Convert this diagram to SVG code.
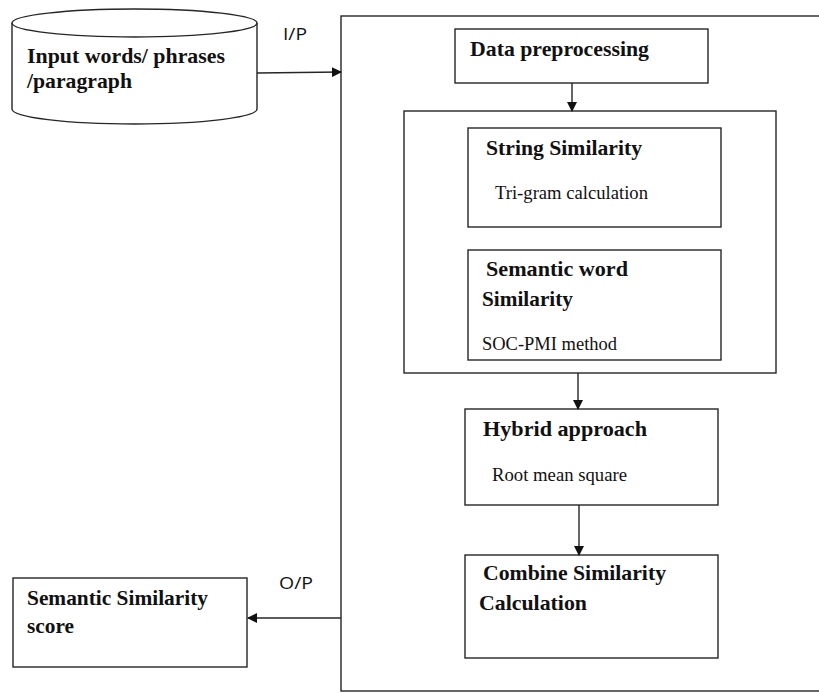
<svg xmlns="http://www.w3.org/2000/svg" width="819" height="693" viewBox="0 0 819 693">
<style>
.box{fill:#fff;stroke:#262626;stroke-width:1.4}
.ln{fill:none;stroke:#262626;stroke-width:1.4}
.t{font-family:"Liberation Serif","Times New Roman",serif;font-weight:bold;font-size:21px;fill:#111}
.s{font-family:"Liberation Serif","Times New Roman",serif;font-size:18px;fill:#111}
.l{font-family:"Open Sans","Liberation Sans",sans-serif;font-size:16px;fill:#111}
</style>
<defs>
<marker id="ah" markerWidth="10" markerHeight="10" refX="9" refY="5" orient="auto" markerUnits="userSpaceOnUse">
<path d="M0,0 L10,5 L0,10 Z" fill="#111"/>
</marker>
</defs>
<rect width="819" height="693" fill="#fff"/>
<g id="outer">
<rect class="box" x="341" y="16" width="490" height="675"/>
</g>
<g id="input">
<path class="box" d="M12,23 L12,109 A122.5,15 0 0 0 257,109 L257,23"/>
<ellipse class="box" cx="134.5" cy="23" rx="122.5" ry="14"/>
<text class="t" x="27" y="63" textLength="198" lengthAdjust="spacingAndGlyphs">Input words/ phrases</text>
<text class="t" x="27" y="88" textLength="105" lengthAdjust="spacingAndGlyphs">/paragraph</text>
</g>
<g id="preprocess">
<rect class="box" x="455" y="29" width="253" height="54"/>
<text class="t" x="470" y="56" textLength="179" lengthAdjust="spacingAndGlyphs">Data preprocessing</text>
</g>
<g id="similarity-group">
<rect class="box" x="404" y="111" width="372" height="262"/>
</g>
<g id="string-sim">
<rect class="box" x="468" y="128" width="253" height="99"/>
<text class="t" x="486" y="155" textLength="156" lengthAdjust="spacingAndGlyphs">String Similarity</text>
<text class="s" x="495" y="199" textLength="153" lengthAdjust="spacingAndGlyphs">Tri-gram calculation</text>
</g>
<g id="semantic-word">
<rect class="box" x="468" y="250" width="253" height="110"/>
<text class="t" x="486" y="276" textLength="142" lengthAdjust="spacingAndGlyphs">Semantic word</text>
<text class="t" x="482" y="306" textLength="91" lengthAdjust="spacingAndGlyphs">Similarity</text>
<text class="s" x="482" y="350" textLength="135" lengthAdjust="spacingAndGlyphs">SOC-PMI method</text>
</g>
<g id="hybrid">
<rect class="box" x="465" y="409" width="253" height="96"/>
<text class="t" x="483" y="436" textLength="164" lengthAdjust="spacingAndGlyphs">Hybrid approach</text>
<text class="s" x="492" y="481" textLength="135" lengthAdjust="spacingAndGlyphs">Root mean square</text>
</g>
<g id="combine">
<rect class="box" x="465" y="555" width="253" height="103"/>
<text class="t" x="483" y="580" textLength="183" lengthAdjust="spacingAndGlyphs">Combine Similarity</text>
<text class="t" x="479" y="610" textLength="108" lengthAdjust="spacingAndGlyphs">Calculation</text>
</g>
<g id="score">
<rect class="box" x="13" y="578" width="234" height="89"/>
<text class="t" x="27" y="605" textLength="181" lengthAdjust="spacingAndGlyphs">Semantic Similarity</text>
<text class="t" x="27" y="633" textLength="47" lengthAdjust="spacingAndGlyphs">score</text>
</g>
<g id="connectors">
<line class="ln" x1="257" y1="73" x2="341" y2="72" marker-end="url(#ah)"/>
<text class="l" x="283" y="40" textLength="24" lengthAdjust="spacingAndGlyphs">I/P</text>
<line class="ln" x1="572" y1="83" x2="572" y2="111" marker-end="url(#ah)"/>
<line class="ln" x1="578" y1="373" x2="578" y2="409" marker-end="url(#ah)"/>
<line class="ln" x1="579" y1="505" x2="579" y2="555" marker-end="url(#ah)"/>
<line class="ln" x1="341" y1="618" x2="248" y2="618" marker-end="url(#ah)"/>
<text class="l" x="279" y="589" textLength="34" lengthAdjust="spacingAndGlyphs">O/P</text>
</g>
</svg>
